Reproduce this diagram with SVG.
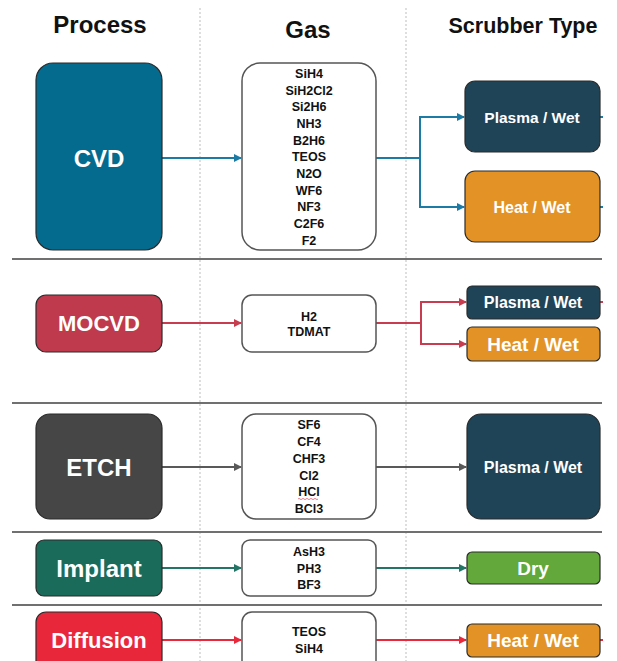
<svg xmlns="http://www.w3.org/2000/svg" width="617" height="661" viewBox="0 0 617 661">
<style>
text{font-family:"Liberation Sans",Arial,sans-serif;font-weight:bold}
.hdr{font-size:24px;fill:#111;text-anchor:middle}
.proc{fill:#fff;text-anchor:middle;font-size:24px}
.gas{font-size:12.5px;fill:#111;text-anchor:middle}
.scr{fill:#fff;text-anchor:middle}
.box{stroke:#2b2b2b;stroke-width:1.2}
.gbox{fill:#fff;stroke:#555;stroke-width:1.5}
.sep{stroke:#707070;stroke-width:2}
.dot{stroke:#bdbdbd;stroke-width:1;stroke-dasharray:2 2}
.c{fill:none;stroke-width:2}
</style>
<defs>
<marker id="aB" markerWidth="8" markerHeight="8" refX="7" refY="4" orient="auto" markerUnits="userSpaceOnUse"><path d="M0,0 L8,4 L0,8 z" fill="#1B7BA5"/></marker>
<marker id="aM" markerWidth="8" markerHeight="8" refX="7" refY="4" orient="auto" markerUnits="userSpaceOnUse"><path d="M0,0 L8,4 L0,8 z" fill="#C83C50"/></marker>
<marker id="aE" markerWidth="8" markerHeight="8" refX="7" refY="4" orient="auto" markerUnits="userSpaceOnUse"><path d="M0,0 L8,4 L0,8 z" fill="#595959"/></marker>
<marker id="aI" markerWidth="8" markerHeight="8" refX="7" refY="4" orient="auto" markerUnits="userSpaceOnUse"><path d="M0,0 L8,4 L0,8 z" fill="#237566"/></marker>
<marker id="aD" markerWidth="8" markerHeight="8" refX="7" refY="4" orient="auto" markerUnits="userSpaceOnUse"><path d="M0,0 L8,4 L0,8 z" fill="#E8293B"/></marker>
</defs>
<rect width="617" height="661" fill="#fff"/>
<g id="grid">
<line class="dot" x1="200" y1="8" x2="200" y2="661"/>
<line class="dot" x1="406" y1="8" x2="406" y2="661"/>
<line class="sep" x1="12" y1="259" x2="602" y2="259"/>
<line class="sep" x1="12" y1="403" x2="602" y2="403"/>
<line class="sep" x1="12" y1="532" x2="602" y2="532"/>
<line class="sep" x1="12" y1="605" x2="602" y2="605"/>
</g>
<g id="headers">
<text class="hdr" x="100" y="33">Process</text>
<text class="hdr" x="308" y="38">Gas</text>
<text class="hdr" x="523" y="33" style="font-size:21.5px">Scrubber Type</text>
</g>
<g id="connectors">
<path class="c" stroke="#1B7BA5" d="M162,158 H241" marker-end="url(#aB)"/>
<path class="c" stroke="#1B7BA5" d="M376,158 H420 V117 H464" marker-end="url(#aB)"/>
<path class="c" stroke="#1B7BA5" d="M420,158 V207 H464" marker-end="url(#aB)"/>
<path class="c" stroke="#1B7BA5" d="M600,117 H603 M600,207 H603"/>
<path class="c" stroke="#C83C50" d="M162,323 H241" marker-end="url(#aM)"/>
<path class="c" stroke="#C83C50" d="M376,323 H421 V302 H466" marker-end="url(#aM)"/>
<path class="c" stroke="#C83C50" d="M421,323 V344 H466" marker-end="url(#aM)"/>
<path class="c" stroke="#C83C50" d="M600,302 H603"/>
<path class="c" stroke="#595959" d="M162,467 H241" marker-end="url(#aE)"/>
<path class="c" stroke="#595959" d="M376,467 H466" marker-end="url(#aE)"/>
<path class="c" stroke="#237566" d="M162,568 H241" marker-end="url(#aI)"/>
<path class="c" stroke="#237566" d="M376,568 H466" marker-end="url(#aI)"/>
<path class="c" stroke="#E8293B" d="M162,640 H241" marker-end="url(#aD)"/>
<path class="c" stroke="#E8293B" d="M376,640 H466" marker-end="url(#aD)"/>
<path class="c" stroke="#E8293B" d="M600,640 H603"/>
</g>
<g id="cvd">
<rect class="box" x="36" y="63" width="126" height="187" rx="17" fill="#056B8E"/>
<text class="proc" x="99" y="167">CVD</text>
</g>
<g id="cvd-gas">
<rect class="gbox" x="242" y="63" width="134" height="187" rx="18"/>
<text class="gas" x="309" y="78">SiH4</text>
<text class="gas" x="309" y="95">SiH2Cl2</text>
<text class="gas" x="309" y="111">Si2H6</text>
<text class="gas" x="309" y="128">NH3</text>
<text class="gas" x="309" y="145">B2H6</text>
<text class="gas" x="309" y="161">TEOS</text>
<text class="gas" x="309" y="178">N2O</text>
<text class="gas" x="309" y="195">WF6</text>
<text class="gas" x="309" y="211">NF3</text>
<text class="gas" x="309" y="228">C2F6</text>
<text class="gas" x="309" y="245">F2</text>
</g>
<g id="cvd-plasma">
<rect class="box" x="465" y="81" width="135" height="71" rx="10" fill="#1F4457"/>
<text class="scr" x="532" y="123" font-size="15.5">Plasma / Wet</text>
</g>
<g id="cvd-heat">
<rect class="box" x="465" y="171" width="135" height="71" rx="10" fill="#E39326"/>
<text class="scr" x="532" y="213" font-size="16">Heat / Wet</text>
</g>
<g id="mocvd">
<rect class="box" x="36" y="295" width="126" height="57" rx="10" fill="#BE3A4C"/>
<text class="proc" x="99" y="331" style="font-size:22px">MOCVD</text>
</g>
<g id="mocvd-gas">
<rect class="gbox" x="242" y="295" width="134" height="57" rx="10"/>
<text class="gas" x="309" y="321">H2</text>
<text class="gas" x="309" y="336">TDMAT</text>
</g>
<g id="mocvd-plasma">
<rect class="box" x="467" y="286" width="133" height="33" rx="5" fill="#1F4457"/>
<text class="scr" x="533" y="308" font-size="16">Plasma / Wet</text>
</g>
<g id="mocvd-heat">
<rect class="box" x="467" y="327" width="133" height="34" rx="5" fill="#E39326"/>
<text class="scr" x="533" y="351" font-size="19">Heat / Wet</text>
</g>
<g id="etch">
<rect class="box" x="36" y="414" width="126" height="105" rx="14" fill="#464646"/>
<text class="proc" x="99" y="476">ETCH</text>
</g>
<g id="etch-gas">
<rect class="gbox" x="242" y="414" width="134" height="105" rx="14"/>
<text class="gas" x="309" y="429">SF6</text>
<text class="gas" x="309" y="446">CF4</text>
<text class="gas" x="309" y="463">CHF3</text>
<text class="gas" x="309" y="480">Cl2</text>
<text class="gas" x="309" y="496">HCl</text>
<path d="M298,499 q1,-1.2 2,0 t2,0 t2,0 t2,0 t2,0 t2,0 t2,0 t2,0 t2,0 t2,0" fill="none" stroke="#e05a6a" stroke-width="0.8"/>
<text class="gas" x="309" y="513">BCl3</text>
</g>
<g id="etch-plasma">
<rect class="box" x="467" y="414" width="133" height="105" rx="14" fill="#1F4457"/>
<text class="scr" x="533" y="473" font-size="16">Plasma / Wet</text>
</g>
<g id="implant">
<rect class="box" x="36" y="540" width="126" height="56" rx="8" fill="#1B6B5B"/>
<text class="proc" x="99" y="577">Implant</text>
</g>
<g id="implant-gas">
<rect class="gbox" x="242" y="540" width="134" height="56" rx="8"/>
<text class="gas" x="309" y="556">AsH3</text>
<text class="gas" x="309" y="573">PH3</text>
<text class="gas" x="309" y="589">BF3</text>
</g>
<g id="implant-dry">
<rect class="box" x="467" y="552" width="133" height="32" rx="5" fill="#62A83B"/>
<text class="scr" x="533" y="575" font-size="19">Dry</text>
</g>
<g id="diffusion">
<rect class="box" x="36" y="612" width="126" height="60" rx="10" fill="#E8283A"/>
<text class="proc" x="99" y="648" style="font-size:22px">Diffusion</text>
</g>
<g id="diffusion-gas">
<rect class="gbox" x="242" y="612" width="134" height="60" rx="10"/>
<text class="gas" x="309" y="636">TEOS</text>
<text class="gas" x="309" y="653">SiH4</text>
</g>
<g id="diffusion-heat">
<rect class="box" x="467" y="624" width="133" height="33" rx="5" fill="#E39326"/>
<text class="scr" x="533" y="647" font-size="19">Heat / Wet</text>
</g>
</svg>
